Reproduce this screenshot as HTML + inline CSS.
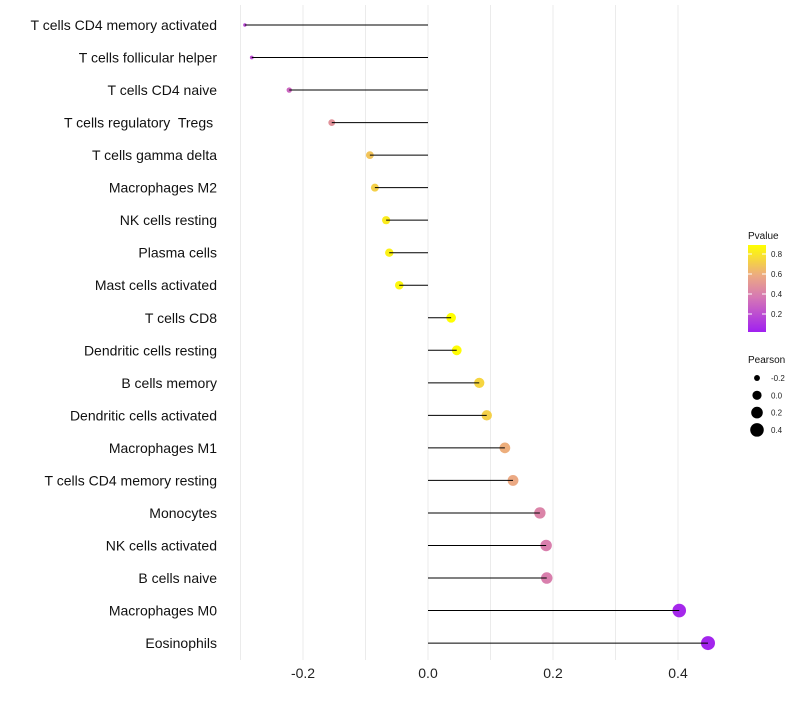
<!DOCTYPE html>
<html><head><meta charset="utf-8"><style>
body{margin:0;background:#fff;font-family:"Liberation Sans",sans-serif}
text{white-space:pre}
</style></head><body>
<svg id="c" width="800" height="700" xmlns="http://www.w3.org/2000/svg" font-family="Liberation Sans, sans-serif"></svg>
<script>
const categories=["T cells CD4 memory activated","T cells follicular helper","T cells CD4 naive","T cells regulatory  Tregs ","T cells gamma delta","Macrophages M2","NK cells resting","Plasma cells","Mast cells activated","T cells CD8","Dendritic cells resting","B cells memory","Dendritic cells activated","Macrophages M1","T cells CD4 memory resting","Monocytes","NK cells activated","B cells naive","Macrophages M0","Eosinophils"];
const pearson=[-0.293,-0.282,-0.222,-0.154,-0.093,-0.085,-0.067,-0.062,-0.046,0.037,0.046,0.082,0.094,0.123,0.136,0.179,0.189,0.190,0.402,0.448];
const pvalue=[0.18,0.2,0.3,0.48,0.68,0.72,0.82,0.84,0.86,0.89,0.88,0.74,0.72,0.6,0.58,0.42,0.4,0.4,0.05,0.04];
const xTicks=[-0.2,0,0.2,0.4];
const xTickLabels=["-0.2","0.0","0.2","0.4"];
const gridVals=[-0.3,-0.2,-0.1,0,0.1,0.2,0.3,0.4];
const legendP=[0.8,0.6,0.4,0.2];
const legendR=[-0.2,0,0.2,0.4];
const NS="http://www.w3.org/2000/svg",svg=document.getElementById('c');
const xs=v=>428+v*625, ys=i=>25+i*32.53;
const rad=v=>Math.sqrt(Math.max(1.5,21.1+62.2*v));
function lerp(a,b,t){return a.map((x,i)=>Math.round(x+(b[i]-x)*t));}
function col(p){const lo=[160,32,240],m1=[214,120,180],m2=[236,170,130],hi=[255,255,0];
 const t=Math.max(0,Math.min(1,(p-0.02)/0.87));
 let c;if(t<0.4)c=lerp(lo,m1,t/0.4);else if(t<0.65)c=lerp(m1,m2,(t-0.4)/0.25);else c=lerp(m2,hi,(t-0.65)/0.35);
 return `rgb(${c})`;}
function el(t,a,txt){const e=document.createElementNS(NS,t);for(const k in a)e.setAttribute(k,a[k]);if(txt!=null)e.textContent=txt;svg.appendChild(e);return e;}
gridVals.forEach(v=>{const g=el('line',{x1:xs(v),x2:xs(v),y1:5,y2:660,stroke:'#ebebeb','stroke-width':1});
});
xTicks.forEach((v,i)=>{const t=el('text',{x:xs(v),y:678,'text-anchor':'middle','font-size':14,fill:'#222'},xTickLabels[i]);
});
categories.forEach((c,i)=>{
 const t=el('text',{x:217,y:ys(i)+5,'text-anchor':'end','font-size':14,fill:'#111'},c);
 
 const d=el('circle',{cx:xs(pearson[i]),cy:ys(i),r:rad(pearson[i]),fill:col(pvalue[i])});
 
 const l=el('line',{x1:xs(0),x2:xs(pearson[i]),y1:ys(i),y2:ys(i),stroke:'#000','stroke-width':1});
 
});
const lt=el('text',{x:748,y:239,'font-size':10,fill:'#111'},'Pvalue');

const defs=el('defs',{});
const g=document.createElementNS(NS,'linearGradient');g.setAttribute('id','pg');g.setAttribute('x1','0');g.setAttribute('y1','1');g.setAttribute('x2','0');g.setAttribute('y2','0');defs.appendChild(g);
for(let k=0;k<=20;k++){const s=document.createElementNS(NS,'stop');s.setAttribute('offset',k/20);s.setAttribute('stop-color',col(0.02+0.87*k/20));g.appendChild(s);}
const bar=el('rect',{x:748,y:245,width:18,height:87,fill:'url(#pg)'});

const py=v=>334-v*100;
legendP.forEach(v=>{el('line',{x1:748,x2:752,y1:py(v),y2:py(v),stroke:'#fff'});el('line',{x1:762,x2:766,y1:py(v),y2:py(v),stroke:'#fff'});
 const t=el('text',{x:771,y:py(v)+3,'font-size':8,fill:'#222'},v.toFixed(1));
 });
const lt2=el('text',{x:748,y:363,'font-size':10,fill:'#111'},'Pearson');

legendR.forEach((v,i)=>{const y=378+i*17.3;
 const c=el('circle',{cx:757,cy:y,r:rad(v),fill:'#000'});
 
 const t=el('text',{x:771,y:y+3,'font-size':8,fill:'#222'},v.toFixed(1));
 });
</script>
</body></html>
